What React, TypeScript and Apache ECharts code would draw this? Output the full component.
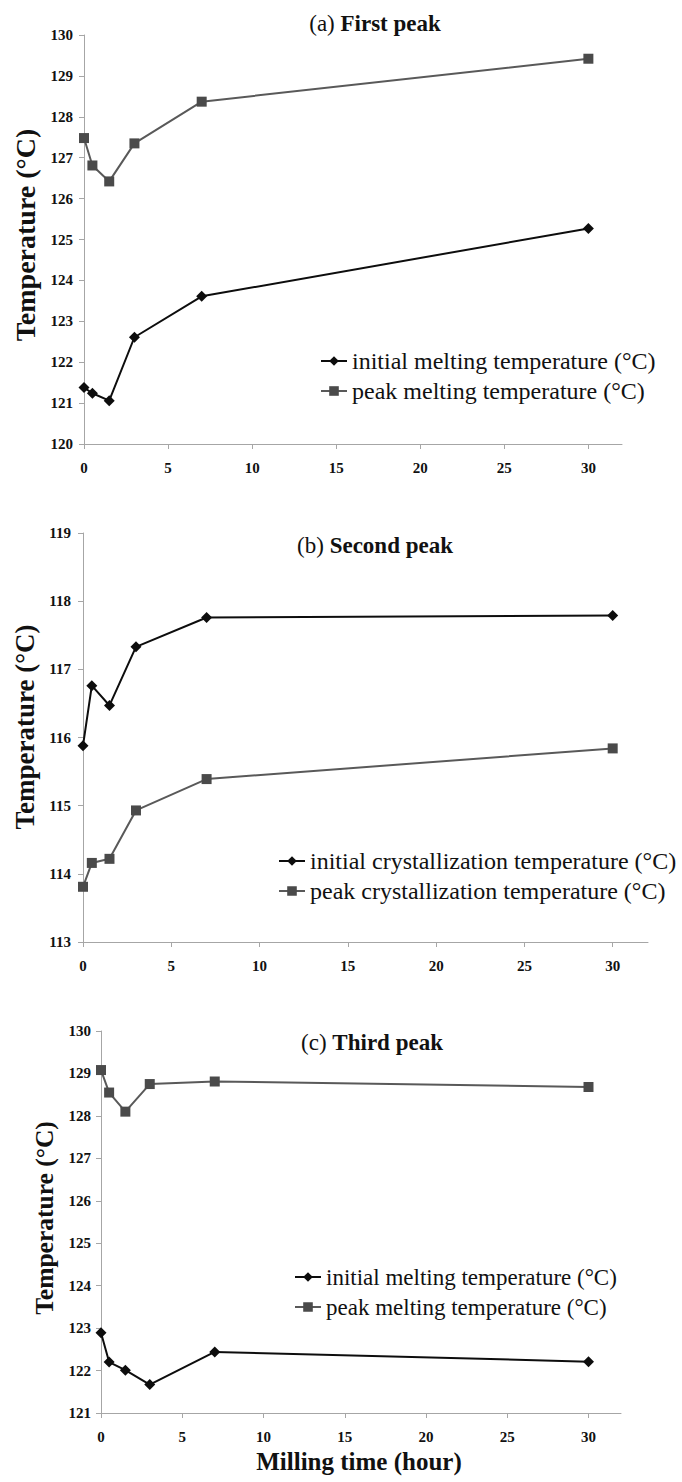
import React, { useEffect, useRef } from "react";
import * as echarts from "echarts";

const FONT = "Liberation Serif, Times New Roman, serif";

// Milling time (hour)
const millingTime = [0, 0.5, 1.5, 3, 7, 30];
const xTickValues = [0, 5, 10, 15, 20, 25, 30];

// (a) First peak
const aInitialMelting = [121.38, 121.24, 121.06, 122.61, 123.61, 125.27];
const aPeakMelting = [127.48, 126.81, 126.42, 127.35, 128.37, 129.42];

// (b) Second peak
const bInitialCryst = [115.88, 116.76, 116.47, 117.33, 117.76, 117.79];
const bPeakCryst = [113.81, 114.16, 114.22, 114.93, 115.39, 115.84];

// (c) Third peak
const cInitialMelting = [122.89, 122.2, 122.01, 121.67, 122.44, 122.21];
const cPeakMelting = [129.08, 128.55, 128.1, 128.75, 128.81, 128.68];

const NAME_IM = "initial melting temperature (°C)";
const NAME_PM = "peak melting temperature (°C)";
const NAME_IC = "initial crystallization temperature (°C)";
const NAME_PC = "peak crystallization temperature (°C)";

const pairs = (ys: number[]) => millingTime.map((x, i) => [x, ys[i]]);

const AXIS_COLOR = "#a6a6a6";
const BLACK = "#0d0d0d";
const GREY_LINE = "#595959";
const GREY_MARK = "#4a4a4a";

const tickLabelStyle = {
  fontSize: 15,
  fontWeight: 700,
  fontFamily: FONT,
  color: "#111",
};

function xAxis(gridIndex: number) {
  return {
    type: "value",
    gridIndex,
    min: 0,
    max: 32,
    interval: 5,
    axisLine: { show: true, lineStyle: { color: AXIS_COLOR, width: 1 } },
    axisTick: {
      show: true,
      length: 5,
      inside: false,
      customValues: xTickValues,
      lineStyle: { color: AXIS_COLOR },
    },
    axisLabel: {
      ...tickLabelStyle,
      customValues: xTickValues,
      margin: 16,
    },
    splitLine: { show: false },
  };
}

function yAxis(gridIndex: number, min: number, max: number, margin: number) {
  return {
    type: "value",
    gridIndex,
    min,
    max,
    interval: 1,
    axisLine: { show: true, lineStyle: { color: AXIS_COLOR, width: 1 } },
    axisTick: { show: true, length: 5, inside: false, lineStyle: { color: AXIS_COLOR } },
    axisLabel: {
      ...tickLabelStyle,
      margin,
    },
    splitLine: { show: false },
  };
}

function lineSeries(name: string, idx: number, ys: number[], initial: boolean) {
  return {
    type: "line",
    name,
    xAxisIndex: idx,
    yAxisIndex: idx,
    data: pairs(ys),
    symbol: initial ? "diamond" : "rect",
    symbolSize: initial ? 11 : 10,
    showSymbol: true,
    clip: false,
    lineStyle: { color: initial ? BLACK : GREY_LINE, width: 2 },
    itemStyle: { color: initial ? BLACK : GREY_MARK },
    z: initial ? 3 : 2,
  };
}

function legend(left: number, top: number, names: string[], fontSize: number, gap: number) {
  return {
    orient: "vertical",
    left,
    top,
    itemWidth: 26,
    itemHeight: 12,
    itemGap: gap,
    selectedMode: false,
    data: names,
    textStyle: { fontSize, fontFamily: FONT, color: "#111", lineHeight: 24 },
  };
}

function panelTitle(x: number, y: number, prefix: string, main: string) {
  return {
    type: "text",
    x,
    y,
    style: {
      text: `{n|${prefix} }{b|${main}}`,
      rich: {
        n: { fontSize: 23, fontFamily: FONT, fill: "#111", color: "#111" },
        b: { fontSize: 23, fontFamily: FONT, fontWeight: "bold", fill: "#111", color: "#111" },
      },
      align: "center",
      verticalAlign: "middle",
      fill: "#111",
    },
  };
}

function yTitle(x: number, y: number, size: number) {
  return {
    type: "text",
    x,
    y,
    rotation: Math.PI / 2,
    style: {
      text: "Temperature (°C)",
      fontSize: size,
      fontWeight: "bold",
      fontFamily: FONT,
      fill: "#111",
      align: "center",
      verticalAlign: "middle",
    },
  };
}

export default function App() {
  const ref = useRef<HTMLDivElement>(null);

  useEffect(() => {
    if (!ref.current) return;
    const chart = echarts.init(ref.current, undefined, { renderer: "svg" });
    chart.setOption({
      animation: false,
      backgroundColor: "#ffffff",
      textStyle: { fontFamily: FONT },
      grid: [
        { left: 84, top: 35, width: 538, height: 409 },
        { left: 83, top: 533, width: 565, height: 409 },
        { left: 101, top: 1031, width: 520, height: 382 },
      ],
      xAxis: [xAxis(0), xAxis(1), xAxis(2)],
      yAxis: [yAxis(0, 120, 130, 11), yAxis(1, 113, 119, 12), yAxis(2, 121, 130, 10)],
      legend: [
        legend(315, 344, [NAME_IM, NAME_PM], 24, 6),
        legend(273, 844, [NAME_IC, NAME_PC], 24, 6),
        legend(289, 1260, [NAME_IM, NAME_PM], 23, 6),
      ],
      series: [
        lineSeries(NAME_IM, 0, aInitialMelting, true),
        lineSeries(NAME_PM, 0, aPeakMelting, false),
        lineSeries(NAME_IC, 1, bInitialCryst, true),
        lineSeries(NAME_PC, 1, bPeakCryst, false),
        lineSeries(NAME_IM, 2, cInitialMelting, true),
        lineSeries(NAME_PM, 2, cPeakMelting, false),
      ],
      graphic: [
        panelTitle(375, 23, "(a)", "First peak"),
        panelTitle(375, 545, "(b)", "Second peak"),
        panelTitle(372, 1042, "(c)", "Third peak"),
        yTitle(25, 235, 28),
        yTitle(25, 727, 27),
        yTitle(44, 1218, 25.5),
        {
          type: "text",
          x: 359,
          y: 1461,
          style: {
            text: "Milling time (hour)",
            fontSize: 25,
            fontWeight: "bold",
            fontFamily: FONT,
            fill: "#111",
            align: "center",
            verticalAlign: "middle",
          },
        },
      ],
    });
    return () => chart.dispose();
  }, []);

  return (
    <div
      ref={ref}
      style={{ position: "absolute", left: 0, top: 0, width: 682, height: 1482, background: "#fff" }}
    />
  );
}
